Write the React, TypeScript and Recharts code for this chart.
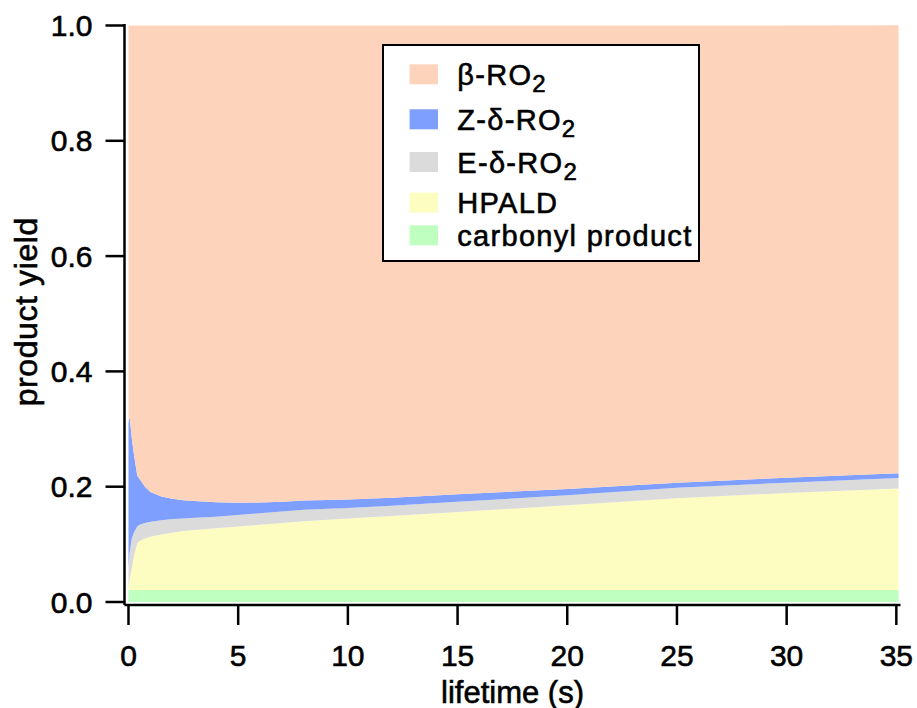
import React from 'react';
import { AreaChart, Area, XAxis, YAxis, Legend } from 'recharts';

const FONT = '"Liberation Sans", Arial, Helvetica, sans-serif';

// lifetime (s)
const time = [0, 0.05, 0.15, 0.25, 0.4, 0.5, 0.75, 1, 1.5, 2, 2.5, 3, 4, 5, 6, 7, 8, 10, 12, 15, 20, 25, 30, 35.1];
// yields, stacked bottom to top
const carbonyl = [0.021, 0.021, 0.021, 0.021, 0.021, 0.021, 0.021, 0.021, 0.021, 0.021, 0.021, 0.021, 0.021, 0.021, 0.021, 0.021, 0.021, 0.021, 0.021, 0.021, 0.021, 0.021, 0.021, 0.021];
const hpald = [0.005, 0.019, 0.037, 0.059, 0.081, 0.085, 0.089, 0.092, 0.096, 0.099, 0.102, 0.104, 0.107, 0.110, 0.113, 0.116, 0.119, 0.124, 0.128, 0.135, 0.147, 0.159, 0.168, 0.176];
const eDelta = [0.034, 0.045, 0.052, 0.041, 0.029, 0.028, 0.027, 0.026, 0.025, 0.024, 0.022, 0.021, 0.020, 0.020, 0.020, 0.020, 0.020, 0.018, 0.018, 0.018, 0.017, 0.018, 0.018, 0.018];
const zDelta = [0.25, 0.237, 0.174, 0.135, 0.088, 0.080, 0.063, 0.052, 0.041, 0.035, 0.0315, 0.029, 0.025, 0.021, 0.0185, 0.017, 0.016, 0.015, 0.014, 0.013, 0.011, 0.009, 0.0085, 0.0084];
const beta = [0.69, 0.678, 0.716, 0.744, 0.781, 0.786, 0.8, 0.809, 0.817, 0.821, 0.8235, 0.825, 0.827, 0.828, 0.8275, 0.826, 0.824, 0.822, 0.819, 0.813, 0.804, 0.793, 0.7845, 0.777];

const xTicks = [0, 5, 10, 15, 20, 25, 30, 35];
const yTicks = [0, 0.2, 0.4, 0.6, 0.8, 1.0];

const COLORS = {
  beta: '#FDD3BC',
  z: '#7F9FFF',
  e: '#DBDBDB',
  hpald: '#FEFDC1',
  carbonyl: '#BFFFBF',
};

const data = time.map((t, i) => ({
  t,
  carbonyl: carbonyl[i],
  hpald: hpald[i],
  eDelta: eDelta[i],
  zDelta: zDelta[i],
  beta: beta[i],
}));

const legendItems = [
  { key: 'beta', color: COLORS.beta, main: 'β-RO', sub: '2' },
  { key: 'z', color: COLORS.z, main: 'Z-δ-RO', sub: '2' },
  { key: 'e', color: COLORS.e, main: 'E-δ-RO', sub: '2' },
  { key: 'hpald', color: COLORS.hpald, main: 'HPALD', sub: '' },
  { key: 'carbonyl', color: COLORS.carbonyl, main: 'carbonyl product', sub: '' },
];
const legendBaselines = [41, 86, 128.7, 169.3, 202];

const TEXT_STROKE = { stroke: '#000', strokeWidth: 0.6 };

const LegendBox = () => (
  <svg width={320} height={221} style={{ display: 'block' }}>
    <rect x={1} y={1} width={316} height={216} fill="#fff" stroke="#000" strokeWidth={2} />
    {legendItems.map((it, i) => (
      <g key={it.key}>
        <rect x={27.6} y={legendBaselines[i] - 20.7} width={28.4} height={20} fill={it.color} />
        <text
          x={75.3}
          y={legendBaselines[i]}
          fontFamily={FONT}
          fontSize={29}
          letterSpacing={1.3}
          fill="#000"
          {...TEXT_STROKE}
        >
          {it.main}
          {it.sub ? (
            <tspan fontSize={24} dy={7}>
              {it.sub}
            </tspan>
          ) : null}
        </text>
      </g>
    ))}
  </svg>
);

const YLabel = () => (
  <text
    transform="translate(36.6,311.7) rotate(-90)"
    textAnchor="middle"
    fontFamily={FONT}
    fontSize={32}
    letterSpacing={0.6}
    fill="#000"
    {...TEXT_STROKE}
  >
    product yield
  </text>
);

const XLabel = () => (
  <text x={512.5} y={702.5} textAnchor="middle" fontFamily={FONT} fontSize={31} fill="#000" {...TEXT_STROKE}>
    lifetime (s)
  </text>
);

const axisStroke = { stroke: '#000', strokeWidth: 2.5 };
const tickStyle = { fill: '#000', fontSize: 30, fontFamily: FONT, ...TEXT_STROKE };

export default function App() {
  return (
    <div style={{ position: 'fixed', left: 0, top: 0, width: 917, height: 708, background: '#fff' }}>
      <AreaChart
        width={917}
        height={708}
        data={data}
        margin={{ top: 24, right: 16.5, bottom: 0, left: 0 }}
        style={{ fontFamily: FONT }}
      >
        <XAxis
          dataKey="t"
          type="number"
          domain={[-0.182, 35.19]}
          allowDataOverflow
          ticks={xTicks}
          tickFormatter={(v: number) => String(v)}
          height={103}
          tickSize={20}
          tickMargin={20}
          axisLine={axisStroke}
          tickLine={axisStroke}
          tick={tickStyle}
          label={<XLabel />}
        />
        <XAxis
          xAxisId="top"
          dataKey="t"
          type="number"
          orientation="top"
          domain={[-0.182, 35.19]}
          allowDataOverflow
          height={0}
          tick={false}
          tickLine={false}
          axisLine={axisStroke}
        />
        <YAxis
          type="number"
          domain={[-0.0052, 1.0026]}
          allowDataOverflow
          ticks={yTicks}
          tickFormatter={(v: number) => v.toFixed(1)}
          width={124.5}
          tickSize={19}
          tickMargin={13}
          axisLine={axisStroke}
          tickLine={axisStroke}
          tick={tickStyle}
          label={<YLabel />}
        />
        <YAxis
          yAxisId="right"
          orientation="right"
          type="number"
          domain={[-0.0052, 1.0026]}
          allowDataOverflow
          width={0}
          tick={false}
          tickLine={false}
          axisLine={axisStroke}
        />
        <Legend
          layout="horizontal"
          verticalAlign="middle"
          align="center"
          wrapperStyle={{ left: 381.7, top: 44, width: 320, height: 221 }}
          content={<LegendBox />}
        />
        <Area type="linear" dataKey="carbonyl" stackId="s" stroke="none" fill={COLORS.carbonyl} fillOpacity={1} isAnimationActive={false} />
        <Area type="linear" dataKey="hpald" stackId="s" stroke="none" fill={COLORS.hpald} fillOpacity={1} isAnimationActive={false} />
        <Area type="linear" dataKey="eDelta" stackId="s" stroke="none" fill={COLORS.e} fillOpacity={1} isAnimationActive={false} />
        <Area type="linear" dataKey="zDelta" stackId="s" stroke="none" fill={COLORS.z} fillOpacity={1} isAnimationActive={false} />
        <Area type="linear" dataKey="beta" stackId="s" stroke="none" fill={COLORS.beta} fillOpacity={1} isAnimationActive={false} />
      </AreaChart>
    </div>
  );
}
